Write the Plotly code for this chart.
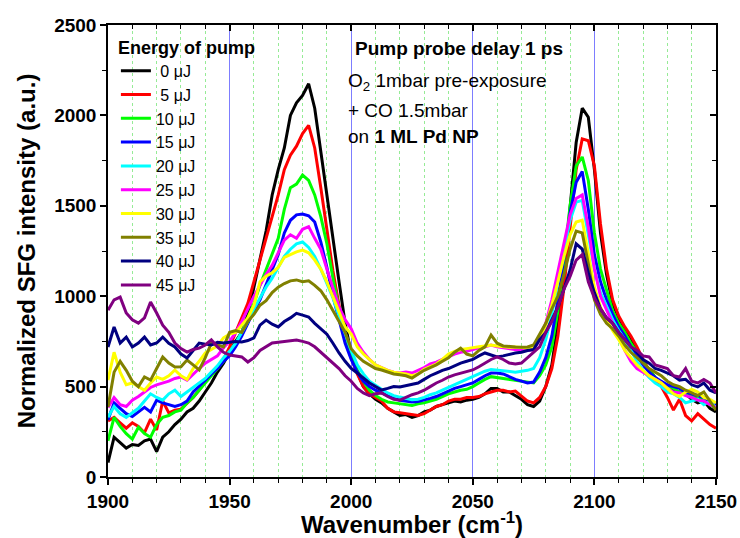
import plotly.graph_objects as go

# Wavenumber grid (cm^-1), 2.5 cm^-1 steps
wavenumber = [1900 + 2.5 * i for i in range(101)]

pump_labels = ["\u00a00 μJ", "\u00a05 μJ", "10 μJ", "15 μJ", "20 μJ",
               "25 μJ", "30 μJ", "35 μJ", "40 μJ", "45 μJ"]
colors = ["#000000", "#ff0000", "#00ff00", "#0000ff", "#00ffff",
          "#ff00ff", "#ffff00", "#808000", "#000080", "#800080"]

sfg_0uJ = [80, 220, 190, 160, 180, 175, 200, 210, 140, 220,
           250, 290, 320, 360, 380, 420, 470, 520, 580, 630,
           690, 750, 800, 900, 1050, 1200, 1360, 1560, 1700, 1820,
           2000, 2070, 2110, 2175, 2040, 1800, 1560, 1300, 1080, 850,
           680, 580, 500, 460, 430, 410, 380, 360, 340, 345,
           330, 340, 360, 370, 390, 400, 410, 420, 415, 425,
           430, 440, 460, 490, 490, 470, 470, 450, 430, 400,
           390, 420, 500, 620, 850, 1130, 1490, 1850, 2040, 1990,
           1700, 1350, 1120, 960, 880, 820, 770, 700, 640, 590,
           550, 520, 500, 480, 470, 460, 430, 410, 420, 380,
           360]
sfg_5uJ = [310, 330, 300, 270, 300, 280, 245, 320, 260, 420,
           355, 370, 375, 405, 440, 480, 530, 570, 600, 650,
           720, 800, 880, 960, 1080, 1200, 1320, 1440, 1560, 1700,
           1780, 1830, 1900, 1945, 1820, 1600, 1380, 1140, 950, 780,
           660, 570, 500, 460, 440, 420, 380, 360, 355, 350,
           345, 340, 350, 370, 390, 400, 420, 430, 430, 440,
           440, 445, 460, 470, 480, 480, 470, 475, 450, 420,
           410, 440, 500, 600, 780, 1050, 1380, 1700, 1870, 1860,
           1720, 1400, 1150, 980, 890, 830, 780, 720, 650, 590,
           540, 500, 440, 370, 430, 340, 310, 350, 320, 290,
           270]
sfg_10uJ = [200, 330, 280, 240, 210, 275, 240, 220, 290, 330,
            340, 360, 370, 410, 440, 480, 520, 560, 600, 640,
            690, 740, 800, 880, 960, 1060, 1150, 1240, 1320, 1480,
            1600, 1620, 1670, 1640, 1560, 1440, 1290, 1100, 930, 790,
            680, 590, 530, 480, 450, 430, 415, 410, 405, 400,
            395, 405, 410, 420, 430, 445, 460, 470, 480, 485,
            500, 520, 540, 555, 550, 545, 540, 535, 530, 525,
            520, 560, 620, 720, 920, 1200, 1500, 1720, 1770, 1640,
            1350, 1150, 1030, 920, 850, 800, 740, 690, 640, 590,
            550, 520, 500, 490, 470, 460, 450, 440, 430, 400,
            380]
sfg_15uJ = [315, 410, 380, 350, 335, 360, 385, 360, 425, 410,
            400, 390, 400, 420, 470, 500, 535, 570, 600, 640,
            670, 720, 780, 850, 920, 980, 1060, 1140, 1230, 1350,
            1420, 1450, 1455, 1445, 1410, 1300, 1160, 1000, 870, 740,
            650, 580, 530, 500, 480, 465, 450, 435, 425, 420,
            415, 418, 425, 435, 445, 460, 475, 490, 500, 510,
            520, 540, 560, 575, 575, 570, 555, 540, 530, 520,
            525, 580, 660, 780, 980, 1220, 1460, 1630, 1690, 1480,
            1230, 1080, 980, 900, 830, 780, 720, 670, 620, 580,
            550, 530, 510, 500, 490, 470, 460, 450, 440, 420,
            400]
sfg_20uJ = [330, 390, 350, 330, 355, 380, 420, 460, 440, 425,
            460, 480, 445, 470, 500, 520, 545, 580, 615, 660,
            695, 740, 800, 860, 930, 990, 1050, 1100, 1160, 1220,
            1260, 1290, 1300, 1270, 1220, 1150, 1070, 990, 890, 790,
            700, 620, 570, 530, 505, 485, 465, 450, 442, 435,
            428, 430, 440, 455, 465, 480, 495, 510, 525, 540,
            553, 570, 585, 595, 592, 590, 585, 580, 585, 590,
            600, 660, 760, 900, 1080, 1260, 1420, 1520, 1530, 1340,
            1150, 1020, 940, 870, 810, 760, 700, 640, 590, 550,
            520, 500, 470, 460, 440, 410, 420, 430, 400, 420,
            380]
sfg_25uJ = [385, 440, 400, 390, 425, 445, 470, 495, 510, 520,
            530, 545, 553, 536, 570, 600, 630, 650, 670, 715,
            750, 800, 860, 930, 1000, 1060, 1120, 1170, 1240, 1310,
            1340, 1320, 1370, 1385, 1320, 1260, 1150, 1040, 940, 870,
            820, 740, 690, 650, 620, 605, 590, 580, 575, 580,
            575, 590, 605, 625, 635, 650, 665, 680, 690, 695,
            705, 715, 720, 730, 720, 715, 710, 702, 700, 700,
            705, 760, 850, 980, 1140, 1300, 1450, 1540, 1560, 1380,
            1150, 1000, 920, 850, 780, 700, 640, 600, 580, 560,
            540, 520, 490, 470, 465, 450, 440, 425, 420, 400,
            385]
sfg_30uJ = [536, 690, 580, 510, 520, 500, 480, 520, 553, 540,
            560, 592, 560, 540, 600, 640, 686, 705, 725, 770,
            790, 800, 840, 880, 950, 1080, 1110, 1130, 1160, 1215,
            1230, 1245, 1255, 1240, 1200, 1150, 1080, 1000, 920, 830,
            790, 720, 680, 650, 620, 605, 590, 580, 575, 570,
            560, 570, 595, 610, 625, 650, 680, 695, 705, 710,
            713, 720, 725, 730, 725, 720, 718, 719, 715, 713,
            720, 770, 840, 950, 1080, 1220, 1340, 1410, 1420, 1240,
            1050, 940, 870, 810, 760, 700, 660, 620, 590, 560,
            540, 520, 490, 460, 445, 470, 485, 470, 440, 430,
            410]
sfg_35uJ = [387, 580, 640, 590, 530, 500, 553, 536, 600, 664,
            630, 608, 610, 647, 620, 592, 660, 741, 730, 720,
            800, 810, 800, 860, 900, 950, 975, 1020, 1050, 1070,
            1085, 1090, 1080, 1085, 1060, 1030, 980, 920, 860, 800,
            710, 670, 640, 620, 600, 592, 580, 570, 565, 560,
            547, 570, 590, 605, 620, 640, 660, 690, 713, 680,
            670, 700, 720, 785, 740, 725, 720, 719, 718, 719,
            730, 790, 850, 930, 1000, 1120, 1260, 1360, 1350, 1180,
            980, 900, 850, 820, 780, 730, 690, 660, 630, 600,
            580, 560, 530, 510, 500, 480, 465, 450, 470, 420,
            370]
sfg_40uJ = [719, 830, 741, 774, 719, 741, 774, 730, 741, 774,
            740, 719, 680, 658, 700, 741, 735, 730, 745, 741,
            745, 750, 747, 755, 770, 840, 868, 845, 830, 860,
            880, 905, 895, 885, 850, 820, 790, 740, 686, 640,
            600, 575, 545, 520, 500, 481, 490, 500, 498, 505,
            515, 520, 540, 560, 575, 590, 600, 615, 630, 640,
            650, 670, 686, 675, 664, 670, 680, 686, 690, 700,
            705, 760, 800, 870, 940, 1040, 1145, 1290, 1260, 1130,
            1020, 930, 880, 850, 800, 760, 720, 690, 650, 630,
            600, 590, 575, 560, 536, 540, 510, 498, 520, 480,
            465]
sfg_45uJ = [923, 980, 995, 907, 870, 851, 880, 968, 907, 840,
            800, 741, 710, 691, 705, 713, 730, 758, 720, 690,
            675, 670, 664, 636, 660, 700, 719, 741, 745, 750,
            755, 758, 750, 741, 720, 690, 660, 630, 600, 560,
            530, 490, 465, 450, 460, 465, 445, 430, 425, 440,
            455, 465, 480, 500, 520, 535, 553, 565, 575, 585,
            592, 610, 630, 650, 664, 650, 630, 625, 630, 660,
            690, 720, 800, 860, 940, 1040, 1110, 1200, 1230, 1080,
            990, 930, 880, 850, 800, 760, 720, 700, 670, 664,
            620, 610, 600, 560, 553, 600, 530, 520, 540, 520,
            465]

series = [sfg_0uJ, sfg_5uJ, sfg_10uJ, sfg_15uJ, sfg_20uJ,
          sfg_25uJ, sfg_30uJ, sfg_35uJ, sfg_40uJ, sfg_45uJ]

FONT = "Liberation Sans, Arial, sans-serif"

fig = go.Figure()
for name, color, values in zip(pump_labels, colors, series):
    fig.add_trace(go.Scatter(
        x=wavenumber, y=values, mode="lines", name=name,
        line=dict(color=color, width=3),
    ))

# helper trace so the top/right axes (inward ticks) get rendered
fig.add_trace(go.Scatter(x=[None], y=[None], xaxis="x2", yaxis="y2",
                         showlegend=False, hoverinfo="skip"))

tickfont = dict(family=FONT, size=19, color="black", weight="bold")

fig.update_layout(
    template="none",
    width=740, height=538,
    margin=dict(l=108, r=24, t=25, b=61),
    paper_bgcolor="white", plot_bgcolor="white",
    showlegend=True,
    legend=dict(
        x=0.013, y=0.988, xanchor="left", yanchor="top",
        bgcolor="rgba(0,0,0,0)", borderwidth=0,
        font=dict(family=FONT, size=16, color="black"),
        title=dict(text="Energy of pump",
                   font=dict(family=FONT, size=18, color="black", weight="bold")),
        tracegroupgap=0,
    ),
    xaxis=dict(
        range=[1900, 2150], tick0=1900, dtick=50,
        ticks="outside", ticklen=6, tickwidth=1.5, tickcolor="black",
        showline=True, linecolor="black", linewidth=1.5, mirror=True,
        showgrid=True, gridcolor="rgb(125,125,255)", gridwidth=1.2, zeroline=False,
        minor=dict(dtick=10, ticks="outside", ticklen=4, tickwidth=1.2,
                   tickcolor="black", showgrid=True, gridcolor="rgb(150,235,150)",
                   griddash="dot", gridwidth=1),
        tickfont=tickfont,
        title=dict(text="Wavenumber (cm<sup>-1</sup>)", standoff=4,
                   font=dict(family=FONT, size=24, color="black", weight="bold")),
    ),
    yaxis=dict(
        range=[0, 2500], tick0=0, dtick=500,
        ticks="outside", ticklen=6, tickwidth=1.5, tickcolor="black",
        showline=True, linecolor="black", linewidth=1.5, mirror=True,
        showgrid=False, zeroline=False,
        minor=dict(dtick=250, ticks="outside", ticklen=4, tickwidth=1.2,
                   tickcolor="black", showgrid=False),
        tickfont=tickfont,
        title=dict(text="Normalized SFG intensity (a.u.)", standoff=12,
                   font=dict(family=FONT, size=24, color="black", weight="bold")),
    ),
    xaxis2=dict(
        overlaying="x", side="top", anchor="y",
        range=[1900, 2150], tick0=1900, dtick=50,
        ticks="inside", ticklen=6, tickwidth=1.5, tickcolor="black",
        showticklabels=False, showgrid=False, showline=False, zeroline=False,
        minor=dict(dtick=10, ticks="inside", ticklen=4, tickwidth=1.2,
                   tickcolor="black", showgrid=False),
    ),
    yaxis2=dict(
        overlaying="y", side="right", anchor="x",
        range=[0, 2500], tick0=0, dtick=500,
        ticks="inside", ticklen=6, tickwidth=1.5, tickcolor="black",
        showticklabels=False, showgrid=False, showline=False, zeroline=False,
        minor=dict(dtick=250, ticks="inside", ticklen=4, tickwidth=1.2,
                   tickcolor="black", showgrid=False),
    ),
)

notes = [
    ("<b>Pump probe delay 1 ps</b>", 0.403, 0.947),
    ("O<sub>2</sub> 1mbar pre-exposure", 0.392, 0.874),
    ("+ CO 1.5mbar", 0.392, 0.810),
    ("on <b>1 ML Pd NP</b>", 0.392, 0.754),
]
for text, xp, yp in notes:
    fig.add_annotation(
        text=text, x=xp, y=yp, xref="paper", yref="paper",
        xanchor="left", yanchor="middle", showarrow=False,
        font=dict(family=FONT, size=19, color="black"),
    )

fig.write_html("out.html")
